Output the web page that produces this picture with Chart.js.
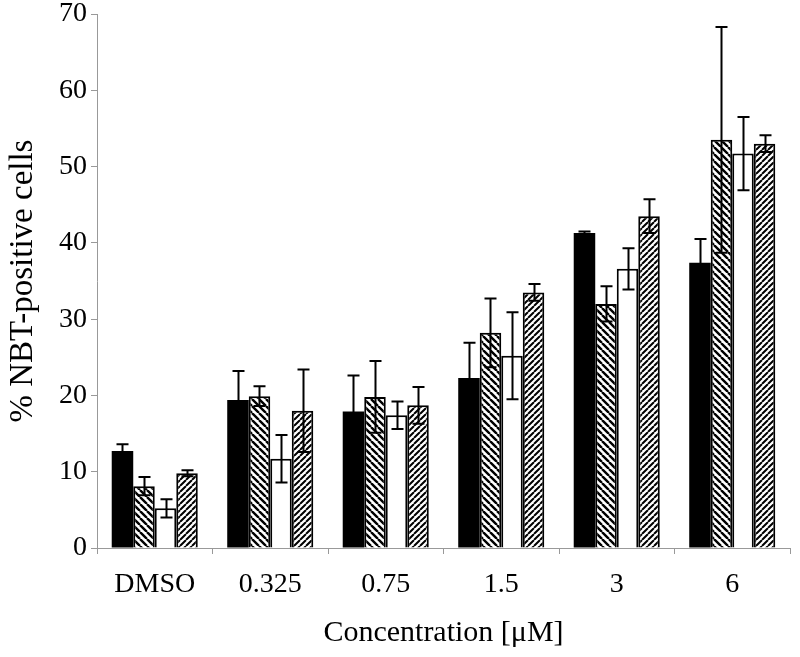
<!DOCTYPE html>
<html>
<head>
<meta charset="utf-8">
<style>
  html, body { margin: 0; padding: 0; background: #fff; }
  #wrap { width: 800px; height: 657px; }
</style>
<script src="https://cdn.jsdelivr.net/npm/chart.js@4"></script>
</head>
<body>
<div id="wrap"><canvas id="barChart" width="800" height="657"></canvas></div>
<script>
const labels = ["DMSO", "0.325", "0.75", "1.5", "3", "6"];

const solidValues = [12.7, 19.4, 17.9, 22.3, 41.3, 37.4];
const solidErrors = [0.9, 3.8, 4.7, 4.6, 0.2, 3.1];

const backHatchValues = [8.1, 19.9, 19.8, 28.2, 32.0, 53.5];
const backHatchErrors = [1.2, 1.3, 4.7, 4.5, 2.3, 14.8];

const whiteValues = [5.2, 11.7, 17.4, 25.2, 36.6, 51.7];
const whiteErrors = [1.2, 3.1, 1.8, 5.7, 2.7, 4.8];

const fwdHatchValues = [9.8, 18.0, 18.7, 33.5, 43.5, 53.0];
const fwdHatchErrors = [0.4, 5.4, 2.4, 1.1, 2.2, 1.1];

const yTicks = [0, 10, 20, 30, 40, 50, 60, 70];

const FONT = "'Liberation Serif', 'Times New Roman', serif";

// diagonal stripe pattern, dir 1 = "\" , dir -1 = "/"
function hatch(size, lineW, dir) {
  const c = document.createElement("canvas");
  c.width = size;
  c.height = size;
  const g = c.getContext("2d");
  g.fillStyle = "#fff";
  g.fillRect(0, 0, size, size);
  g.strokeStyle = "#000";
  g.lineWidth = lineW;
  g.beginPath();
  for (let k = -1; k <= 1; k++) {
    if (dir > 0) {
      g.moveTo(k * size, 0);
      g.lineTo(k * size + size, size);
    } else {
      g.moveTo(k * size, size);
      g.lineTo(k * size + size, 0);
    }
  }
  g.stroke();
  return g.createPattern(c, "repeat");
}

const ctx = document.getElementById("barChart").getContext("2d");

const errorBars = {
  id: "errorBars",
  afterDatasetsDraw(chart) {
    const g = chart.ctx;
    const y = chart.scales.y;
    g.save();
    g.strokeStyle = "#000";
    g.lineWidth = 2;
    chart.data.datasets.forEach((ds, di) => {
      const meta = chart.getDatasetMeta(di);
      meta.data.forEach((bar, i) => {
        const v = ds.data[i];
        const e = ds.errors[i];
        const top = y.getPixelForValue(v + e);
        const bot = y.getPixelForValue(Math.max(0, v - e));
        const x = Math.round(bar.x) + 0.5;
        const cap = 6;
        g.beginPath();
        g.moveTo(x, top);
        g.lineTo(x, bot);
        g.moveTo(x - cap, top);
        g.lineTo(x + cap, top);
        g.moveTo(x - cap, bot);
        g.lineTo(x + cap, bot);
        g.stroke();
      });
    });
    g.restore();
  },
};

new Chart(ctx, {
  type: "bar",
  data: {
    labels: labels,
    datasets: [
      {
        label: "A",
        data: solidValues,
        errors: solidErrors,
        backgroundColor: "#000",
        borderColor: "#000",
        borderWidth: 0,
      },
      {
        label: "B",
        data: backHatchValues,
        errors: backHatchErrors,
        backgroundColor: hatch(7, 2.4, 1),
        borderColor: "#000",
        borderWidth: 2,
      },
      {
        label: "C",
        data: whiteValues,
        errors: whiteErrors,
        backgroundColor: "#fff",
        borderColor: "#000",
        borderWidth: 2,
      },
      {
        label: "D",
        data: fwdHatchValues,
        errors: fwdHatchErrors,
        backgroundColor: hatch(6, 2, -1),
        borderColor: "#000",
        borderWidth: 2,
      },
    ],
  },
  options: {
    responsive: false,
    animation: false,
    devicePixelRatio: 1,
    layout: { padding: { left: 4, right: 10, top: 14, bottom: 6 } },
    categoryPercentage: 0.745,
    barPercentage: 1.0,
    plugins: {
      legend: { display: false },
      tooltip: { enabled: false },
    },
    scales: {
      x: {
        grid: {
          display: true,
          drawOnChartArea: false,
          drawTicks: true,
          tickLength: 6,
          color: "#999",
          offset: true,
        },
        border: { color: "#999", width: 1 },
        ticks: {
          color: "#000",
          font: { family: FONT, size: 28 },
          padding: 14,
        },
        title: {
          display: true,
          text: "Concentration [\u03bcM]",
          color: "#000",
          font: { family: FONT, size: 30 },
          padding: { top: 4, bottom: 0 },
        },
        afterFit(scale) {
          scale.height = 103;
        },
      },
      y: {
        min: 0,
        max: 70,
        afterBuildTicks(scale) {
          scale.ticks = yTicks.map((v) => ({ value: v }));
        },
        grid: {
          display: true,
          drawOnChartArea: false,
          drawTicks: true,
          tickLength: 6,
          color: "#999",
        },
        border: { color: "#999", width: 1 },
        ticks: {
          color: "#000",
          font: { family: FONT, size: 28 },
          padding: 4,
        },
        title: {
          display: true,
          text: "% NBT-positive cells",
          color: "#000",
          font: { family: FONT, size: 33 },
          padding: { top: 0, bottom: 0 },
        },
        afterFit(scale) {
          scale.width = 93;
          scale.paddingTop = 0;
          scale.paddingBottom = 0;
        },
      },
    },
  },
  plugins: [errorBars],
});
</script>
</body>
</html>
